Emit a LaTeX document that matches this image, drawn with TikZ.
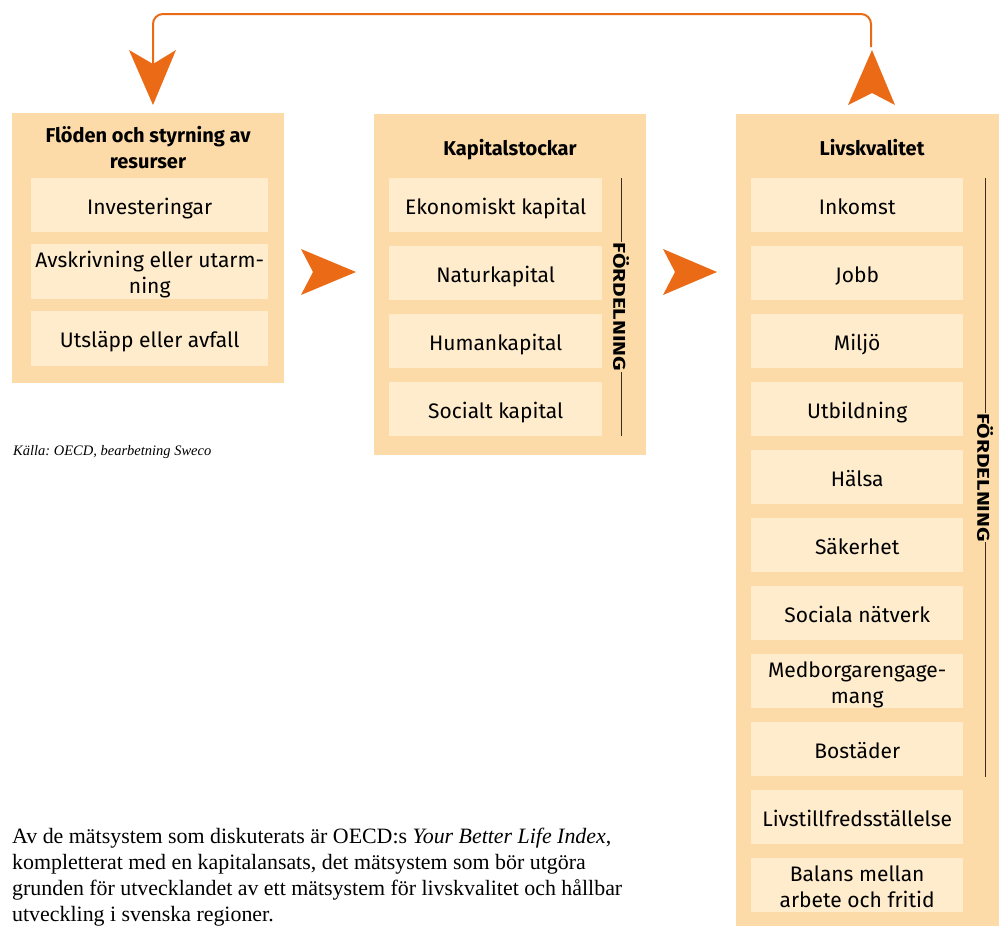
\documentclass[tikz,border=0pt]{standalone}
\usepackage{fontspec}
\setmainfont{Liberation Serif}
\setsansfont{Fira Sans}
\usetikzlibrary{calc}
\definecolor{panel}{RGB}{253,219,168}
\definecolor{itemfill}{RGB}{254,236,204}
\definecolor{arroworange}{RGB}{234,106,22}
\definecolor{distgray}{RGB}{55,45,35}
\frenchspacing
\begin{document}
\begin{tikzpicture}[x=1pt,y=-1pt,
  panelbox/.style={fill=panel, draw=none, inner sep=0pt, anchor=north west},
  itembox/.style={fill=itemfill, draw=none, inner sep=0pt, anchor=north west,
    minimum height=54pt, font=\sffamily\fontsize{21}{26}\selectfont,
    text height=18pt, text depth=0pt, align=center},
  twoline/.style={text height=44pt, text depth=0pt},
  paneltitle/.style={font=\sffamily\bfseries\fontsize{20}{26}\selectfont, align=center, inner sep=0pt, anchor=base},
  disttext/.style={font=\sffamily\bfseries\fontsize{17}{17}\selectfont, rotate=-90, fill=panel, inner sep=0.5pt},
  distline/.style={draw=distgray, line width=1pt},
  chevron/.style={fill=arroworange, draw=none},
  loopline/.style={draw=arroworange, line width=2pt, rounded corners=10pt}
]
\useasboundingbox (0,0) rectangle (999,926);
\clip (0,0) rectangle (999,926);

% panels
\node[panelbox, minimum width=272pt, minimum height=270pt] (P1) at (12,113) {};
\node[panelbox, minimum width=272pt, minimum height=341pt] (P2) at (374,114) {};
\node[panelbox, minimum width=272pt, minimum height=830pt] (P3) at (736,114) {};

% titles
\node[paneltitle] (T1) at (148,168) {Flöden och styrning av\\resurser};
\node[paneltitle] (T2) at (510,155) {Kapitalstockar};
\node[paneltitle] (T3) at (872,155) {Livskvalitet};

% left items
\node[itembox, minimum width=237pt] (L1) at (31,178) {Investeringar};
\node[itembox, minimum width=237pt, minimum height=55pt, twoline] (L2) at (31,244) {Avskrivning eller utarm-\\ning};
\node[itembox, minimum width=237pt, minimum height=55pt] (L3) at (31,311) {Utsläpp eller avfall};

% middle items
\node[itembox, minimum width=213pt] (M1) at (389,178) {Ekonomiskt kapital};
\node[itembox, minimum width=213pt] (M2) at (389,246) {Naturkapital};
\node[itembox, minimum width=213pt] (M3) at (389,314) {Humankapital};
\node[itembox, minimum width=213pt] (M4) at (389,382) {Socialt kapital};

% right items
\node[itembox, minimum width=212pt] (R1) at (751,178) {Inkomst};
\node[itembox, minimum width=212pt] (R2) at (751,246) {Jobb};
\node[itembox, minimum width=212pt] (R3) at (751,314) {Miljö};
\node[itembox, minimum width=212pt] (R4) at (751,382) {Utbildning};
\node[itembox, minimum width=212pt] (R5) at (751,450) {Hälsa};
\node[itembox, minimum width=212pt] (R6) at (751,518) {Säkerhet};
\node[itembox, minimum width=212pt] (R7) at (751,586) {Sociala nätverk};
\node[itembox, minimum width=212pt, twoline] (R8) at (751,654) {Medborgarengage-\\mang};
\node[itembox, minimum width=212pt] (R9) at (751,722) {Bostäder};
\node[itembox, minimum width=212pt] (R10) at (751,790) {Livstillfredsställelse};
\node[itembox, minimum width=212pt, twoline] (R11) at (751,858) {Balans mellan\\arbete och fritid};

% distribution markers
\coordinate (D2a) at (621,178);
\coordinate (D2b) at (621,436);
\draw[distline] (D2a) -- (D2b);
\node[disttext] (D2) at ($(D2a)!0.5!(D2b)$) {\scalebox{1.32}[1]{FÖRDELNING}};
\coordinate (D3a) at (985,178);
\coordinate (D3b) at (985,777);
\draw[distline] (D3a) -- (D3b);
\node[disttext] (D3) at ($(D3a)!0.5!(D3b)$) {\scalebox{1.32}[1]{FÖRDELNING}};

% chevrons between panels
\fill[chevron] (301,249) -- (356,272) -- (301,295) -- (313,272) -- cycle;
\fill[chevron] (663,249) -- (717,272) -- (663,295) -- (675,272) -- cycle;

% feedback loop
\coordinate (loopS) at (871,47);
\coordinate (loopC) at (153,14);
\coordinate (loopE) at (153,64);
\draw[loopline] (loopS) |- (loopC) -- (loopE);
\fill[chevron] (129,50) -- (153,64) -- (176,50) -- (153,105) -- cycle;
\fill[chevron] (848,105) -- (872,93) -- (895,105) -- (872,50) -- cycle;

% source and body text
\node[anchor=base west, inner sep=0pt, font=\itshape\fontsize{14.5}{16}\selectfont] (SRC) at (13,455) {Källa: OECD, bearbetning Sweco};
\node[anchor=base west, inner sep=0pt, align=left, font=\fontsize{21.9}{26}\selectfont] (BODY) at (12,921)
  {Av de mätsystem som diskuterats är OECD:s \textit{Your Better Life Index},\\
   kompletterat med en kapitalansats, det mätsystem som bör utgöra\\
   grunden för utvecklandet av ett mätsystem för livskvalitet och hållbar\\
   utveckling i svenska regioner.};
\end{tikzpicture}
\end{document}
